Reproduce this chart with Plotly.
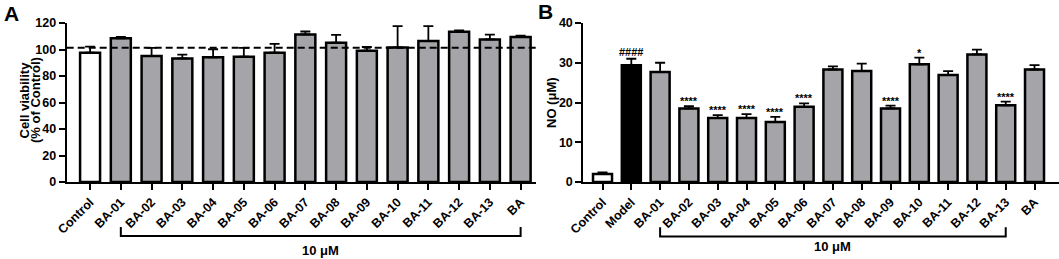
import plotly.graph_objects as go

W, H = 1059, 259

# ---------- Data ----------
cats_a = ["Control", "BA-01", "BA-02", "BA-03", "BA-04", "BA-05", "BA-06", "BA-07",
          "BA-08", "BA-09", "BA-10", "BA-11", "BA-12", "BA-13", "BA"]
viab = [97.6, 108.4, 95.1, 93.3, 94.1, 94.6, 97.6, 111.4, 105.1, 99.1, 101.6, 106.4, 113.4, 107.6, 109.4]
viab_top = [102.1, 109.6, 101.2, 96.2, 100.2, 101.2, 104.3, 113.6, 111.1, 101.9, 117.7, 117.7, 114.4, 111.2, 110.4]
viab_ref = 101.3

cats_b = ["Control", "Model", "BA-01", "BA-02", "BA-03", "BA-04", "BA-05", "BA-06", "BA-07",
          "BA-08", "BA-09", "BA-10", "BA-11", "BA-12", "BA-13", "BA"]
no_val = [2.0, 29.4, 27.7, 18.5, 16.1, 16.1, 15.1, 18.9, 28.3, 27.9, 18.5, 29.6, 26.9, 32.1, 19.3, 28.3]
no_top = [2.4, 31.0, 30.0, 19.1, 16.8, 17.1, 16.4, 19.8, 29.1, 29.8, 19.2, 31.3, 27.9, 33.3, 20.2, 29.4]
no_sig = ["", "####", "", "****", "****", "****", "****", "****", "", "", "****", "*", "", "", "****", ""]

GRAY = "#a4a4a9"
FONT = "Liberation Sans, Arial, sans-serif"

colors_a = ["white"] + [GRAY] * (len(cats_a) - 1)
colors_b = ["white", "black"] + [GRAY] * (len(cats_b) - 2)

fig = go.Figure()

fig.add_trace(go.Bar(
    x=list(range(len(cats_a))), y=viab, width=0.65,
    marker=dict(color=colors_a, line=dict(color="black", width=2.5)),
    error_y=dict(type="data", symmetric=False,
                 array=[t - v for t, v in zip(viab_top, viab)],
                 arrayminus=[0] * len(viab), color="black", thickness=1.8, width=5),
    xaxis="x", yaxis="y", showlegend=False))

fig.add_trace(go.Bar(
    x=list(range(len(cats_b))), y=no_val, width=0.66,
    marker=dict(color=colors_b, line=dict(color="black", width=2.5)),
    error_y=dict(type="data", symmetric=False,
                 array=[t - v for t, v in zip(no_top, no_val)],
                 arrayminus=[0] * len(no_val), color="black", thickness=1.8, width=5),
    xaxis="x2", yaxis="y2", showlegend=False))

axis_common = dict(showline=True, linecolor="black", linewidth=2, ticks="outside",
                   ticklen=6, tickwidth=2, tickcolor="black", showgrid=False, zeroline=False,
                   automargin=False)
ytick_font = dict(family=FONT, size=12.5, color="black", weight="bold")
xtick_font = dict(family=FONT, size=12.5, color="black", weight="bold")

fig.update_layout(
    width=W, height=H,
    margin=dict(l=0, r=0, t=23, b=77),
    plot_bgcolor="white", paper_bgcolor="white",
    font=dict(family=FONT, color="black", weight="bold"),
    xaxis=dict(domain=[66.7 / W, 536 / W], range=[-0.76, 14.5],
               tickmode="array", tickvals=list(range(len(cats_a))), ticktext=cats_a,
               tickangle=-45, anchor="y", tickfont=xtick_font, **axis_common),
    yaxis=dict(range=[0, 120], tickvals=[0, 20, 40, 60, 80, 100, 120], anchor="x",
               tickfont=ytick_font, **axis_common),
    xaxis2=dict(domain=[583.3 / W, 1.0], range=[-0.667, 15.85],
                tickmode="array", tickvals=list(range(len(cats_b))), ticktext=cats_b,
                tickangle=-45, anchor="y2", tickfont=xtick_font, **axis_common),
    yaxis2=dict(range=[0, 40], tickvals=[0, 10, 20, 30, 40], anchor="x2",
                tickfont=ytick_font, **axis_common),
)

# dashed reference line in panel A
fig.add_shape(type="line", xref="x domain", yref="y", x0=0, x1=1, y0=viab_ref, y1=viab_ref,
              line=dict(color="black", width=2, dash="7px,4px"))

# brackets
def bracket(xref, i0, i1, yb, yt):
    fig.add_shape(type="path", xref=xref, yref="paper",
                  path=f"M {i0},{yt} L {i0},{yb} L {i1},{yb} L {i1},{yt}",
                  line=dict(color="black", width=2))

bracket("x", cats_a.index("BA-01"), cats_a.index("BA"), -0.3396, -0.283)
bracket("x2", cats_b.index("BA-01"), cats_b.index("BA-13"), -0.343, -0.285)

PH = 159.0  # plot height in px
def py(pix):
    return (182.0 - pix) / PH

ann = []
ann.append(dict(xref="x", yref="paper", x=(cats_a.index("BA-01") + cats_a.index("BA")) / 2, y=py(250.5),
                yanchor="middle", text="10 μM", showarrow=False,
                font=dict(size=13, family=FONT, weight="bold")))
ann.append(dict(xref="x2", yref="paper", x=(cats_b.index("BA-01") + cats_b.index("BA-13")) / 2, y=py(246.5),
                yanchor="middle", text="10 μM", showarrow=False,
                font=dict(size=13, family=FONT, weight="bold")))

# significance marks
for i, s in enumerate(no_sig):
    if s:
        ann.append(dict(xref="x2", yref="y2", x=i, y=no_top[i], text=s, showarrow=False,
                        yanchor="bottom", yshift=-3 if s.startswith("*") else -1,
                        font=dict(size=11, family=FONT, weight="bold")))

# axis titles
ann.append(dict(xref="paper", yref="paper", x=23.5 / W, y=py(100), xanchor="center", yanchor="middle",
                text="Cell viability", textangle=-90, showarrow=False,
                font=dict(size=13, family=FONT, weight="bold")))
ann.append(dict(xref="paper", yref="paper", x=35 / W, y=py(100), xanchor="center", yanchor="middle",
                text="(% of Control)", textangle=-90, showarrow=False,
                font=dict(size=13, family=FONT, weight="bold")))
ann.append(dict(xref="paper", yref="paper", x=551 / W, y=py(103), xanchor="center", yanchor="middle",
                text="NO (μM)", textangle=-90, showarrow=False,
                font=dict(size=13, family=FONT, weight="bold")))

# panel letters
ann.append(dict(xref="paper", yref="paper", x=11 / W, y=py(13), xanchor="center", yanchor="middle",
                text="A", showarrow=False, font=dict(size=21, family=FONT, weight="bold")))
ann.append(dict(xref="paper", yref="paper", x=545 / W, y=py(11), xanchor="center", yanchor="middle",
                text="B", showarrow=False, font=dict(size=21, family=FONT, weight="bold")))

fig.update_layout(annotations=ann)

fig.write_html("out.html", config={"displayModeBar": False},
               post_script="document.body.style.margin='0';document.body.style.padding='0';")
